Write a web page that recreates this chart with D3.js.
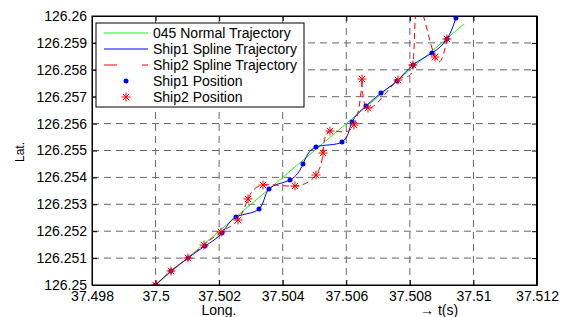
<!DOCTYPE html>
<html>
<head>
<meta charset="utf-8">
<script src="https://cdn.jsdelivr.net/npm/d3@7/dist/d3.min.js"></script>
<style>
  body { margin: 0; background: #fff; }
  svg { display: block; font-family: "Liberation Sans", Arial, sans-serif; }
</style>
</head>
<body>
<svg width="568" height="317"></svg>
<script>
// axis ticks
const lonTicks = [37.498, 37.5, 37.502, 37.504, 37.506, 37.508, 37.51, 37.512];
const latTicks = [126.25, 126.251, 126.252, 126.253, 126.254, 126.255, 126.256, 126.257, 126.258, 126.259, 126.26];

// 045 normal trajectory (start / end)
const normalLon = [37.5, 37.5097];
const normalLat = [126.25, 126.2597];

// ship 1 positions
const ship1Lon = [37.5, 37.500485, 37.50102, 37.501555, 37.50209, 37.50253, 37.503254, 37.503568, 37.504229, 37.504638,
                  37.505047, 37.505865, 37.50618, 37.50662, 37.507092, 37.507595, 37.508099, 37.508696, 37.509168, 37.509451];
const ship1Lat = [126.25, 126.25052, 126.251004, 126.25145, 126.251933, 126.252528, 126.252825, 126.253568, 126.253903, 126.254498,
                  126.25513, 126.255315, 126.256059, 126.256654, 126.257137, 126.257583, 126.258178, 126.258623, 126.259144, 126.259925];

// ship 2 positions (18th fix lies just above the plotted area)
const ship2Lon = [37.5, 37.500485, 37.50102, 37.501524, 37.502058, 37.502593, 37.502908, 37.50338, 37.504386, 37.505047,
                  37.505267, 37.505487, 37.506243, 37.506494, 37.506683, 37.507627, 37.508099, 37.508256, 37.508791, 37.509168];
const ship2Lat = [126.25, 126.25052, 126.251004, 126.251487, 126.25197, 126.252416, 126.253197, 126.253717, 126.25368, 126.254089,
                  126.254906, 126.255724, 126.255947, 126.257657, 126.256579, 126.25762, 126.258178, 126.260482, 126.258475, 126.259144];

const svg = d3.select("svg");
const mLeft = 92, mTop = 16, mRight = 537, mBottom = 285;

const x = d3.scaleLinear().domain([37.498, 37.512]).range([mLeft, mRight]);
const y = d3.scaleLinear().domain([126.25, 126.26]).range([mBottom, mTop]);

const fmt = d => String(+d.toFixed(3));

// grid
const grid = svg.append("g").attr("stroke", "#666").attr("stroke-dasharray", "7,5").attr("stroke-width", 1);
lonTicks.slice(1, -1).forEach(t => {
    grid.append("line").attr("x1", x(t)).attr("x2", x(t)).attr("y1", mTop).attr("y2", mBottom);
});
latTicks.slice(1, -1).forEach(t => {
    grid.append("line").attr("x1", mLeft).attr("x2", mRight).attr("y1", y(t)).attr("y2", y(t));
});

// axes
svg.append("g").attr("transform", `translate(0,${mBottom})`)
    .call(d3.axisBottom(x).tickValues(lonTicks).tickFormat(fmt).tickSizeInner(-5).tickSizeOuter(0).tickPadding(6));
svg.append("g").attr("transform", `translate(0,${mTop})`)
    .call(d3.axisTop(x).tickValues(lonTicks).tickFormat("").tickSizeInner(-5).tickSizeOuter(0));
svg.append("g").attr("transform", `translate(${mLeft},0)`)
    .call(d3.axisLeft(y).tickValues(latTicks).tickFormat(fmt).tickSizeInner(-5).tickSizeOuter(0).tickPadding(5));
svg.append("g").attr("transform", `translate(${mRight},0)`)
    .call(d3.axisRight(y).tickValues(latTicks).tickFormat("").tickSizeInner(-5).tickSizeOuter(0));

svg.selectAll(".domain").attr("stroke", "#000");
svg.selectAll(".tick line").attr("stroke", "#000");
svg.selectAll(".tick text").attr("font-size", 14).attr("fill", "#000")
    .attr("font-family", "'Liberation Sans', Arial, sans-serif");

// plot clip
svg.append("clipPath").attr("id", "clip")
  .append("rect").attr("x", mLeft).attr("y", mTop).attr("width", mRight - mLeft).attr("height", mBottom - mTop);

const plot = svg.append("g").attr("clip-path", "url(#clip)");

const line = d3.line().x(d => x(d[0])).y(d => y(d[1]));
const spline = d3.line().x(d => x(d[0])).y(d => y(d[1])).curve(d3.curveNatural);

const normal = normalLon.map((v, i) => [v, normalLat[i]]);
const ship1 = ship1Lon.map((v, i) => [v, ship1Lat[i]]);
const ship2 = ship2Lon.map((v, i) => [v, ship2Lat[i]]);

plot.append("path").datum(normal).attr("d", line)
    .attr("fill", "none").attr("stroke", "#22ee22").attr("stroke-width", 1);
plot.append("path").datum(ship1).attr("d", spline)
    .attr("fill", "none").attr("stroke", "#0000ff").attr("stroke-width", 1);
plot.append("path").datum(ship2).attr("d", spline)
    .attr("fill", "none").attr("stroke", "#ff0000").attr("stroke-width", 1).attr("stroke-dasharray", "6,4");

const star = "M-4.5,0H4.5M0,-4.5V4.5M-3.2,-3.2L3.2,3.2M-3.2,3.2L3.2,-3.2";

plot.selectAll(".dot1").data(ship1).enter().append("circle")
    .attr("cx", d => x(d[0])).attr("cy", d => y(d[1])).attr("r", 2.5).attr("fill", "#0000ff");
plot.selectAll(".star2").data(ship2).enter().append("path")
    .attr("transform", d => `translate(${x(d[0])},${y(d[1])})`)
    .attr("d", star).attr("stroke", "#ff0000").attr("stroke-width", 1).attr("fill", "none");

// box
svg.append("rect").attr("x", mLeft).attr("y", mTop).attr("width", mRight - mLeft).attr("height", mBottom - mTop)
    .attr("fill", "none").attr("stroke", "#000").attr("stroke-width", 1);
svg.append("line").attr("x1", mRight).attr("x2", mRight).attr("y1", mTop).attr("y2", mBottom)
    .attr("stroke", "#000").attr("stroke-width", 2);

// axis labels
svg.append("text").attr("x", 219).attr("y", 315).attr("text-anchor", "middle")
    .attr("font-size", 14).text("Long.");
svg.append("text").attr("transform", "translate(24,152) rotate(-90)").attr("text-anchor", "middle")
    .attr("font-size", 12).text("Lat.");
svg.append("text").attr("x", 420).attr("y", 315).attr("font-size", 14).text("\u2192 t(s)");

// legend
const legend = svg.append("g");
legend.append("rect").attr("x", 96).attr("y", 23).attr("width", 208).attr("height", 84)
    .attr("fill", "#fff").attr("stroke", "#000").attr("stroke-width", 1);

const legendNames = ["045 Normal Trajectory", "Ship1 Spline Trajectory", "Ship2 Spline Trajectory", "Ship1 Position", "Ship2 Position"];

legendNames.forEach((name, i) => {
    const ly = 33 + i * 16;
    if (i === 0) legend.append("line").attr("x1", 104).attr("x2", 148).attr("y1", ly).attr("y2", ly).attr("stroke", "#22ee22");
    if (i === 1) legend.append("line").attr("x1", 104).attr("x2", 148).attr("y1", ly).attr("y2", ly).attr("stroke", "#0000ff");
    if (i === 2) legend.append("line").attr("x1", 104).attr("x2", 148).attr("y1", ly).attr("y2", ly).attr("stroke", "#ff0000")
        .attr("stroke-dasharray", "13,25");
    if (i === 3) legend.append("circle").attr("cx", 126).attr("cy", ly).attr("r", 2.5).attr("fill", "#0000ff");
    if (i === 4) legend.append("path").attr("transform", `translate(126,${ly})`).attr("d", star)
        .attr("stroke", "#ff0000").attr("fill", "none");
    legend.append("text").attr("x", 153).attr("y", ly).attr("dy", "0.35em").attr("font-size", 14).text(name);
});
</script>
</body>
</html>
